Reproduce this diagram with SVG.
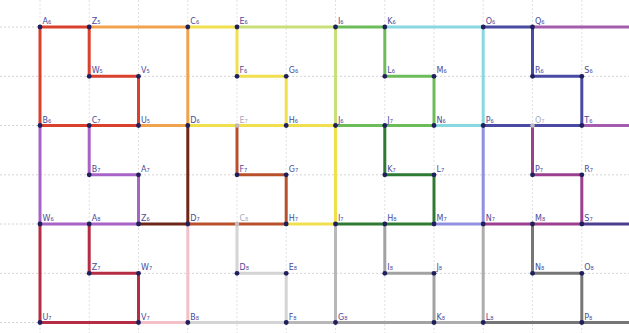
<svg xmlns="http://www.w3.org/2000/svg" width="629" height="333" viewBox="0 0 629 333">
<style>
.g{stroke:#d4d4d4;stroke-width:1;stroke-dasharray:2 2;fill:none}
.gv{stroke:#e0e0e0;stroke-width:1;stroke-dasharray:2 2;fill:none}
.s{fill:none;stroke-width:3;stroke-linecap:square;stroke-linejoin:miter}
.red{stroke:#d9402e}.orange{stroke:#f0a24e}.yellow{stroke:#f1e04e}.ygreen{stroke:#c9df7a}
.green{stroke:#6cbd5a}.cyan{stroke:#88d8e2}.blue{stroke:#4a4aa4}.violet{stroke:#a45cae}
.purple{stroke:#a863c6}.maroon{stroke:#6e2618}.brown{stroke:#b9502c}.dgreen{stroke:#2f7a33}
.lav{stroke:#9090e2}.magenta{stroke:#9c3f8e}.indigo{stroke:#4d3f8f}.crimson{stroke:#b52d45}
.pink{stroke:#f3bfc9}.lgray{stroke:#d4d4d4}.gray{stroke:#b8b8b8}.gray2{stroke:#a2a2a2}
.gray3{stroke:#adadad}.dgray{stroke:#767676}
.p circle{fill:#1f1f5c}
.p text{font-family:"DejaVu Sans",sans-serif;font-size:8px;fill:#4a4a9a}
.p.h circle{fill:#c4bcbc}
.p.h text{fill:#a8a8bc}
</style>
<rect width="629" height="333" fill="#ffffff"/>
<g id="grid">
<path class="g" d="M0,27H629M0,76.3H629M0,125.5H629M0,174.8H629M0,224H629M0,273.3H629M0,322.5H629"/>
<path class="gv" d="M40,0V333M89.2,0V333M138.5,0V333M187.8,0V333M237,0V333M286.2,0V333M335.5,0V333M384.8,0V333M434,0V333M483.2,0V333M532.5,0V333M581.8,0V333"/>
</g>
<g id="connectors">
<path class="s orange" d="M89.2,27H187.8V125.5H138.5"/>
<path class="s yellow" d="M187.8,27H237V76.3H286.2V125.5H187.8"/>
<path class="s ygreen" d="M237,27H335.5V125.5"/>
<path class="s cyan" d="M384.8,27H483.2V125.5H434"/>
<path class="s violet" d="M532.5,27H631M631,125.5H581.8"/>
<path class="s green" d="M335.5,27H384.8V76.3H434V125.5H335.5"/>
<path class="s blue" d="M483.2,27H532.5V76.3H581.8V125.5H483.2"/>
<path class="s red" d="M40,27H89.2V76.3H138.5V125.5H40Z"/>
<path class="s maroon" d="M187.8,125.5V224H138.5"/>
<path class="s yellow" d="M286.2,125.5H335.5V224H286.2"/>
<path class="s brown" d="M237,125.5V174.8H286.2V224H187.8"/>
<path class="s lav" d="M483.2,125.5V224H434"/>
<path class="s dgreen" d="M384.8,125.5V174.8H434V224H335.5"/>
<path class="s indigo" d="M581.8,224H631"/>
<path class="s magenta" d="M532.5,125.5V174.8H581.8V224H483.2"/>
<path class="s purple" d="M89.2,125.5V174.8H138.5V224H40V125.5"/>
<path class="s pink" d="M187.8,224V322.5H138.5"/>
<path class="s gray" d="M335.5,224V322.5H286.2"/>
<path class="s lgray" d="M237,224V273.3H286.2V322.5H187.8"/>
<path class="s gray3" d="M483.2,224V322.5H434"/>
<path class="s gray2" d="M384.8,224V273.3H434V322.5H335.5"/>
<path class="s dgray" d="M532.5,224V273.3H581.8V322.5H483.2M581.8,322.5H631"/>
<path class="s crimson" d="M89.2,224V273.3H138.5V322.5H40V224"/>
</g>
<g id="nodes">
<g id="A6" class="p"><circle cx="40" cy="27" r="2.4"/><text x="42.5" y="24">A₆</text></g>
<g id="Z5" class="p"><circle cx="89.2" cy="27" r="2.4"/><text x="91.7" y="24">Z₅</text></g>
<g id="C6" class="p"><circle cx="187.8" cy="27" r="2.4"/><text x="190.3" y="24">C₆</text></g>
<g id="E6" class="p"><circle cx="237" cy="27" r="2.4"/><text x="239.5" y="24">E₆</text></g>
<g id="I6" class="p"><circle cx="335.5" cy="27" r="2.4"/><text x="338" y="24">I₆</text></g>
<g id="K6" class="p"><circle cx="384.8" cy="27" r="2.4"/><text x="387.3" y="24">K₆</text></g>
<g id="O6" class="p"><circle cx="483.2" cy="27" r="2.4"/><text x="485.7" y="24">O₆</text></g>
<g id="Q6" class="p"><circle cx="532.5" cy="27" r="2.4"/><text x="535" y="24">Q₆</text></g>
<g id="W5" class="p"><circle cx="89.2" cy="76.3" r="2.4"/><text x="91.7" y="73.3">W₅</text></g>
<g id="V5" class="p"><circle cx="138.5" cy="76.3" r="2.4"/><text x="141" y="73.3">V₅</text></g>
<g id="F6" class="p"><circle cx="237" cy="76.3" r="2.4"/><text x="239.5" y="73.3">F₆</text></g>
<g id="G6" class="p"><circle cx="286.2" cy="76.3" r="2.4"/><text x="288.7" y="73.3">G₆</text></g>
<g id="L6" class="p"><circle cx="384.8" cy="76.3" r="2.4"/><text x="387.3" y="73.3">L₆</text></g>
<g id="M6" class="p"><circle cx="434" cy="76.3" r="2.4"/><text x="436.5" y="73.3">M₆</text></g>
<g id="R6" class="p"><circle cx="532.5" cy="76.3" r="2.4"/><text x="535" y="73.3">R₆</text></g>
<g id="S6" class="p"><circle cx="581.8" cy="76.3" r="2.4"/><text x="584.3" y="73.3">S₆</text></g>
<g id="B6" class="p"><circle cx="40" cy="125.5" r="2.4"/><text x="42.5" y="122.5">B₆</text></g>
<g id="C7" class="p"><circle cx="89.2" cy="125.5" r="2.4"/><text x="91.7" y="122.5">C₇</text></g>
<g id="U5" class="p"><circle cx="138.5" cy="125.5" r="2.4"/><text x="141" y="122.5">U₅</text></g>
<g id="D6" class="p"><circle cx="187.8" cy="125.5" r="2.4"/><text x="190.3" y="122.5">D₆</text></g>
<g id="E7" class="p h"><circle cx="237" cy="125.5" r="2.2"/><text x="239.5" y="122.5">E₇</text></g>
<g id="H6" class="p"><circle cx="286.2" cy="125.5" r="2.4"/><text x="288.7" y="122.5">H₆</text></g>
<g id="J6" class="p"><circle cx="335.5" cy="125.5" r="2.4"/><text x="338" y="122.5">J₆</text></g>
<g id="J7" class="p"><circle cx="384.8" cy="125.5" r="2.4"/><text x="387.3" y="122.5">J₇</text></g>
<g id="N6" class="p"><circle cx="434" cy="125.5" r="2.4"/><text x="436.5" y="122.5">N₆</text></g>
<g id="P6" class="p"><circle cx="483.2" cy="125.5" r="2.4"/><text x="485.7" y="122.5">P₆</text></g>
<g id="O7" class="p h"><circle cx="532.5" cy="125.5" r="2.2"/><text x="535" y="122.5">O₇</text></g>
<g id="T6" class="p"><circle cx="581.8" cy="125.5" r="2.4"/><text x="584.3" y="122.5">T₆</text></g>
<g id="B7" class="p"><circle cx="89.2" cy="174.8" r="2.4"/><text x="91.7" y="171.8">B₇</text></g>
<g id="A7" class="p"><circle cx="138.5" cy="174.8" r="2.4"/><text x="141" y="171.8">A₇</text></g>
<g id="F7" class="p"><circle cx="237" cy="174.8" r="2.4"/><text x="239.5" y="171.8">F₇</text></g>
<g id="G7" class="p"><circle cx="286.2" cy="174.8" r="2.4"/><text x="288.7" y="171.8">G₇</text></g>
<g id="K7" class="p"><circle cx="384.8" cy="174.8" r="2.4"/><text x="387.3" y="171.8">K₇</text></g>
<g id="L7" class="p"><circle cx="434" cy="174.8" r="2.4"/><text x="436.5" y="171.8">L₇</text></g>
<g id="P7" class="p"><circle cx="532.5" cy="174.8" r="2.4"/><text x="535" y="171.8">P₇</text></g>
<g id="R7" class="p"><circle cx="581.8" cy="174.8" r="2.4"/><text x="584.3" y="171.8">R₇</text></g>
<g id="W6" class="p"><circle cx="40" cy="224" r="2.4"/><text x="42.5" y="221">W₆</text></g>
<g id="A8" class="p"><circle cx="89.2" cy="224" r="2.4"/><text x="91.7" y="221">A₈</text></g>
<g id="Z6" class="p"><circle cx="138.5" cy="224" r="2.4"/><text x="141" y="221">Z₆</text></g>
<g id="D7" class="p"><circle cx="187.8" cy="224" r="2.4"/><text x="190.3" y="221">D₇</text></g>
<g id="C8" class="p h"><circle cx="237" cy="224" r="2.2"/><text x="239.5" y="221">C₈</text></g>
<g id="H7" class="p"><circle cx="286.2" cy="224" r="2.4"/><text x="288.7" y="221">H₇</text></g>
<g id="I7" class="p"><circle cx="335.5" cy="224" r="2.4"/><text x="338" y="221">I₇</text></g>
<g id="H8" class="p"><circle cx="384.8" cy="224" r="2.4"/><text x="387.3" y="221">H₈</text></g>
<g id="M7" class="p"><circle cx="434" cy="224" r="2.4"/><text x="436.5" y="221">M₇</text></g>
<g id="N7" class="p"><circle cx="483.2" cy="224" r="2.4"/><text x="485.7" y="221">N₇</text></g>
<g id="M8" class="p"><circle cx="532.5" cy="224" r="2.4"/><text x="535" y="221">M₈</text></g>
<g id="S7" class="p"><circle cx="581.8" cy="224" r="2.4"/><text x="584.3" y="221">S₇</text></g>
<g id="Z7" class="p"><circle cx="89.2" cy="273.3" r="2.4"/><text x="91.7" y="270.3">Z₇</text></g>
<g id="W7" class="p"><circle cx="138.5" cy="273.3" r="2.4"/><text x="141" y="270.3">W₇</text></g>
<g id="D8" class="p"><circle cx="237" cy="273.3" r="2.4"/><text x="239.5" y="270.3">D₈</text></g>
<g id="E8" class="p"><circle cx="286.2" cy="273.3" r="2.4"/><text x="288.7" y="270.3">E₈</text></g>
<g id="I8" class="p"><circle cx="384.8" cy="273.3" r="2.4"/><text x="387.3" y="270.3">I₈</text></g>
<g id="J8" class="p"><circle cx="434" cy="273.3" r="2.4"/><text x="436.5" y="270.3">J₈</text></g>
<g id="N8" class="p"><circle cx="532.5" cy="273.3" r="2.4"/><text x="535" y="270.3">N₈</text></g>
<g id="O8" class="p"><circle cx="581.8" cy="273.3" r="2.4"/><text x="584.3" y="270.3">O₈</text></g>
<g id="U7" class="p"><circle cx="40" cy="322.5" r="2.4"/><text x="42.5" y="319.5">U₇</text></g>
<g id="V7" class="p"><circle cx="138.5" cy="322.5" r="2.4"/><text x="141" y="319.5">V₇</text></g>
<g id="B8" class="p"><circle cx="187.8" cy="322.5" r="2.4"/><text x="190.3" y="319.5">B₈</text></g>
<g id="F8" class="p"><circle cx="286.2" cy="322.5" r="2.4"/><text x="288.7" y="319.5">F₈</text></g>
<g id="G8" class="p"><circle cx="335.5" cy="322.5" r="2.4"/><text x="338" y="319.5">G₈</text></g>
<g id="K8" class="p"><circle cx="434" cy="322.5" r="2.4"/><text x="436.5" y="319.5">K₈</text></g>
<g id="L8" class="p"><circle cx="483.2" cy="322.5" r="2.4"/><text x="485.7" y="319.5">L₈</text></g>
<g id="P8" class="p"><circle cx="581.8" cy="322.5" r="2.4"/><text x="584.3" y="319.5">P₈</text></g>
</g>
</svg>
